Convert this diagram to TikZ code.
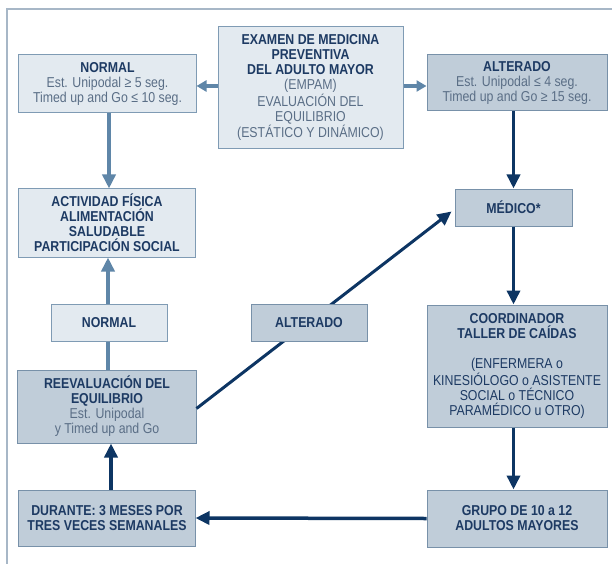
\documentclass[tikz,border=0pt]{standalone}
\usepackage{fontspec}
\setmainfont{Liberation Sans}[FakeStretch=0.86]
\usepackage{xcolor}
\usetikzlibrary{arrows.meta,positioning,calc}

\definecolor{lightfill}{HTML}{E3EAF0}
\definecolor{lightedge}{HTML}{7F9BB4}
\definecolor{darkfill}{HTML}{C0CDD9}
\definecolor{darkedge}{HTML}{7891A9}
\definecolor{headtxt}{HTML}{1D3A63}
\definecolor{bodytxt}{HTML}{5A6E86}
\definecolor{steel}{HTML}{5F86A8}
\definecolor{navy}{HTML}{0D3563}
\definecolor{framegrey}{HTML}{A7B7C7}

\newcommand\rg[1]{{\mdseries\color{bodytxt}#1}}
\newcommand\rgdark[1]{{\mdseries #1}}

\begin{document}
\begin{tikzpicture}[x=1bp,y=-1bp,
  box/.style={draw,line width=1bp,inner sep=2bp,align=center,text=headtxt,
    font=\fontsize{14.4}{15}\selectfont\bfseries},
  lightbox/.style={box,fill=lightfill,draw=lightedge},
  darkbox/.style={box,fill=darkfill,draw=darkedge},
  soft/.style={line width=3.5bp,steel},
  hard/.style={line width=3.5bp,navy},
  tipbig/.style={-{Triangle[length=14bp,width=13bp]}},
  tipsmall/.style={-{Triangle[length=10bp,width=11bp]}}]
  \useasboundingbox (0,0) rectangle (612,564);
  \draw[framegrey,line width=1.2bp] (7,564) -- (7,9) -- (612,9);

  % first screening
  \node[lightbox,minimum width=185bp,minimum height=121bp] (exam) at (310.5,87.5)
    {EXAMEN DE MEDICINA\\PREVENTIVA\\DEL ADULTO MAYOR\\\rg{(EMPAM)}\\\rg{EVALUACIÓN DEL}\\\rg{EQUILIBRIO}\\\rg{(ESTÁTICO Y DINÁMICO)}};
  \node[lightbox,minimum width=177bp,minimum height=58bp] (normA) at (107.5,84)
    {NORMAL\\\rg{Est. Unipodal ≥ 5 seg.}\\\rg{Timed up and Go ≤ 10 seg.}};
  \node[darkbox,minimum width=180bp,minimum height=56bp] (altA) at (517,83)
    {ALTERADO\\\rg{Est. Unipodal ≤ 4 seg.}\\\rg{Timed up and Go ≥ 15 seg.}};

  \node[lightbox,minimum width=176bp,minimum height=68bp] (activ) at (107,223)
    {ACTIVIDAD FÍSICA\\ALIMENTACIÓN\\SALUDABLE\\PARTICIPACIÓN SOCIAL};
  \node[darkbox,minimum width=117bp,minimum height=37bp] (medico) at (513.5,207.5) {MÉDICO*};

  \node[lightbox,minimum width=116bp,minimum height=37bp] (normB) at (109,322.5) {NORMAL};
  \node[darkbox,minimum width=180bp,minimum height=122bp] (coord) at (517,366)
    {COORDINADOR\\TALLER DE CAÍDAS\\[15bp]\rgdark{(ENFERMERA o}\\\rgdark{KINESIÓLOGO o ASISTENTE}\\\rgdark{SOCIAL o TÉCNICO}\\\rgdark{PARAMÉDICO u OTRO)}};
  \node[darkbox,minimum width=178bp,minimum height=73bp] (reeval) at (107,406.5)
    {REEVALUACIÓN DEL\\EQUILIBRIO\\\rg{Est. Unipodal}\\\rg{y Timed up and Go}};

  \node[darkbox,minimum width=176bp,minimum height=56bp] (durante) at (107,518)
    {DURANTE: 3 MESES POR\\TRES VECES SEMANALES};
  \node[darkbox,minimum width=180bp,minimum height=57bp] (grupo) at (517,518.5)
    {GRUPO DE 10 a 12\\ADULTOS MAYORES};

  % connectors
  \draw[soft,tipsmall] (exam.west |- 0,86) -- (normA.east |- 0,86);
  \draw[soft,tipsmall] (exam.east |- 0,86) -- (altA.west |- 0,86);
  \draw[soft,tipbig] (normA.south -| 109,0) -- (activ.north -| 109,0);
  \draw[soft,tipbig] (normB.north -| 108,0) -- (activ.south -| 108,0);
  \draw[soft] (normB.south -| 108,0) -- (reeval.north -| 108,0);
  \draw[hard,tipbig] (altA.south -| medico.north) -- (medico.north);
  \draw[hard,tipbig] (medico.south) -- (medico.south |- coord.north);
  \draw[hard,tipbig] (coord.south -| medico.south) -- (grupo.north -| medico.south);
  \draw[hard,tipbig] (grupo.west) -- (durante.east);
  \draw[hard,tipbig] (durante.north -| 111,0) -- (reeval.south -| 111,0);
  \draw[navy,line width=3bp,tipbig] ($(reeval.east)+(0,2)$) -- ($(medico.west)+(-3,4)$);

  \node[darkbox,minimum width=116bp,minimum height=37bp] (altB) at (309,322.5) {ALTERADO};
\end{tikzpicture}
\end{document}
